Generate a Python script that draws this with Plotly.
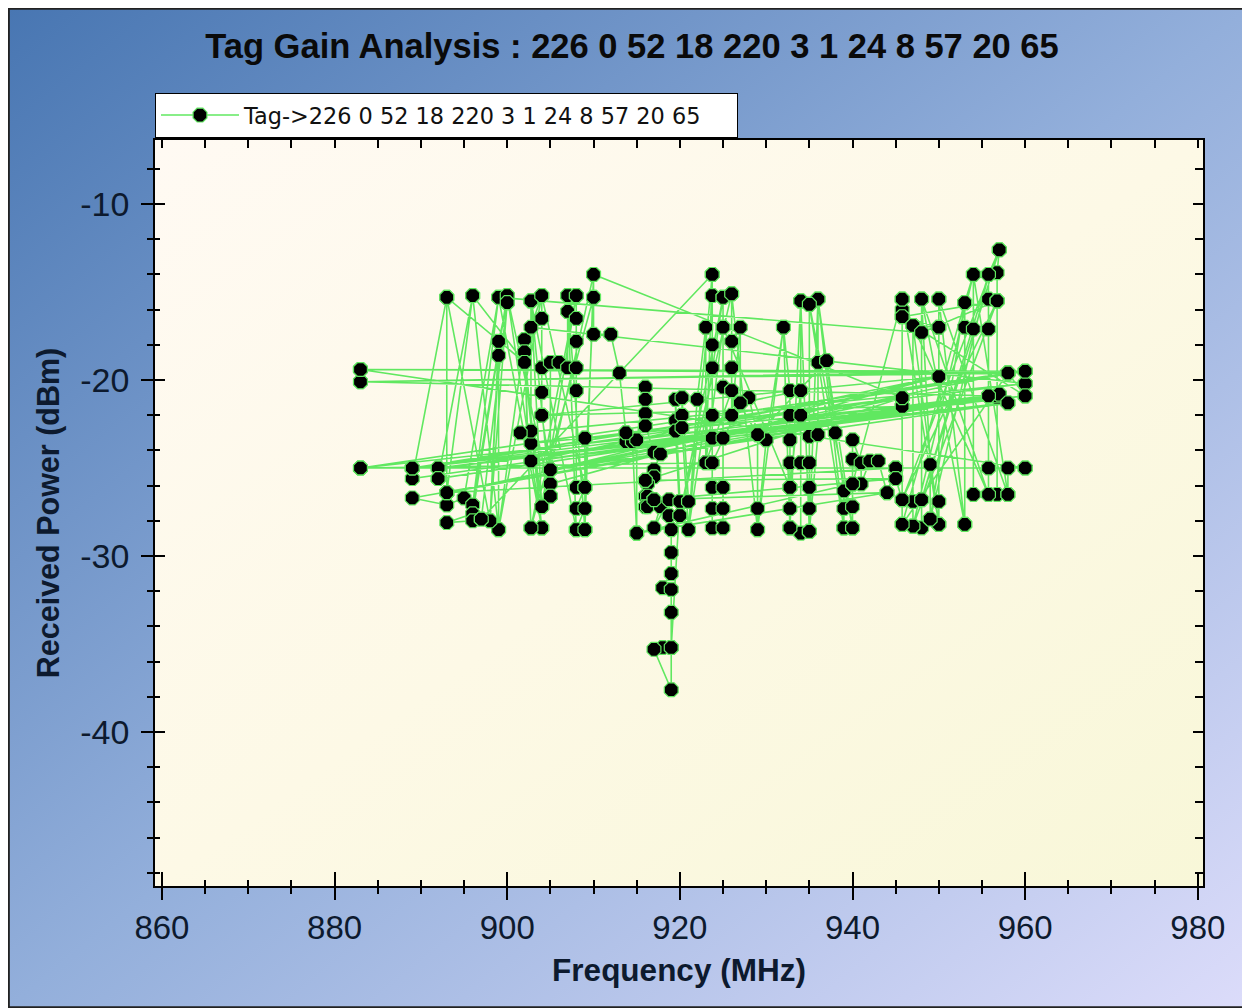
import base64
import plotly.graph_objects as go

freq_mhz = [
    883, 960, 883, 958, 883, 889, 958, 892, 956.75, 889, 893, 893, 896, 892, 955.75,
    889, 893, 895, 899, 896, 900, 896, 893, 896, 897, 900, 899, 898, 899, 899,
    902, 902.75, 902, 904, 902, 904, 902.75, 902.75, 956.75, 902.75, 902.75, 901.5, 960, 902.75, 904,
    904, 904, 904, 904, 905, 950, 905, 905, 905, 906, 907, 907, 907, 908, 908,
    908, 908, 908, 908, 909, 908, 909, 908, 909, 909, 945.75, 910, 910, 910, 912,
    913, 913.75, 913.75, 914.5, 915, 915, 916, 916, 916, 916, 917, 917.75, 917, 917, 916,
    916.25, 916, 916.25, 917, 916, 916.25, 917.75, 917, 918.75, 918.75, 919, 919, 919, 918, 919,
    919, 919, 918, 917, 919, 919, 920, 919.5, 919.5, 919.5, 920, 921, 920.25, 920.25, 920.25,
    921, 922, 923, 923, 923.75, 923.75, 923.75, 923.75, 923.75, 923.75, 923.75, 923.75, 923.75, 923.75, 925,
    925, 925, 925, 925, 925, 925, 926, 926, 926, 926, 926, 927, 927, 928, 929,
    929, 929, 930, 932, 932.75, 932.75, 932.75, 932.75, 932.75, 932.75, 932.75, 934, 934, 934, 934,
    934, 935, 935, 935, 935, 935, 935, 936, 936, 936, 937, 938, 939, 939, 939,
    940, 940, 940, 940, 940, 941, 941, 942, 943, 944, 945, 945, 945.75, 945.75, 945.75,
    945.75, 945.75, 945.75, 947, 947, 947, 948, 948, 948, 948, 949, 949, 950, 950, 950,
    950, 953, 953, 953, 954, 954, 954, 955.75, 955.75, 955.75, 955.75, 955.75, 957, 956.75, 956.75,
    956.75, 958, 958, 960, 883, 960, 892, 945, 893, 957, 905, 958, 883, 960,
    # second sweep
    883, 958, 883, 956.75, 893, 945.75, 889, 957, 892, 955.75, 905, 958, 902.75, 950,
    904, 945.75, 909, 960, 913.75, 945.75, 916, 945, 917, 944, 915, 940,
    945.75, 950, 947, 955.75, 948, 953, 950, 958, 954, 947, 956.75, 945.75, 957, 948,
    955.75, 949, 953, 945.75, 958, 960, 947, 950, 945.75, 956.75, 948,
    899, 904, 900, 905, 902.75, 908, 907, 909, 910, 904, 908, 902.75, 910, 909,
    904, 899, 896, 902, 893, 898, 900, 897,
    923.75, 921, 925, 920, 926, 929, 932, 932.75, 934, 935, 936, 939, 935, 940, 937,
    929, 926, 923, 925, 932.75, 934, 927, 923.75,
    883, 960, 883, 958, 889, 960,
]
power_dbm = [
    -19.4, -19.5, -20.1, -19.6, -25.0, -25.0, -21.3, -25.0, -20.9, -25.6, -15.3, -26.4, -15.2, -25.6, -20.9,
    -26.7, -27.1, -26.7, -15.3, -27.1, -15.2, -27.6, -28.1, -28.0, -27.9, -15.6, -17.8, -28.0, -18.6, -28.5,
    -17.7, -28.4, -18.4, -28.4, -19.0, -27.2, -15.5, -24.6, -21.0, -23.6, -22.9, -23.0, -20.2, -17.0, -15.2,
    -16.5, -19.3, -20.7, -22.0, -25.1, -19.8, -25.9, -26.6, -19.0, -19.0, -19.3, -15.2, -16.1, -15.2, -16.5,
    -17.8, -19.3, -20.6, -26.1, -26.1, -27.3, -27.3, -28.5, -28.5, -23.3, -21.0, -14.0, -15.3, -17.4, -17.4,
    -19.6, -23.0, -23.5, -23.5, -28.7, -23.4, -20.4, -21.1, -21.9, -22.6, -24.1, -24.2, -25.1, -25.5, -25.7,
    -25.9, -26.6, -26.6, -26.8, -27.2, -27.2, -27.2, -28.4, -26.8, -27.7, -28.5, -29.8, -31.0, -31.8, -31.9,
    -33.2, -35.2, -35.2, -35.3, -37.6, -35.2, -26.9, -21.1, -22.3, -22.9, -27.7, -26.9, -21.0, -22.0, -22.7,
    -28.5, -21.1, -17.0, -24.7, -14.0, -15.2, -18.0, -19.3, -22.0, -23.3, -24.7, -26.1, -27.3, -28.4, -28.4,
    -27.3, -26.1, -23.3, -20.4, -17.0, -15.3, -15.1, -17.8, -19.3, -20.6, -22.0, -17.0, -21.3, -21.0, -23.1,
    -27.3, -28.5, -23.4, -17.0, -20.6, -22.0, -23.4, -24.7, -26.1, -27.3, -28.4, -28.7, -24.7, -22.0, -20.6,
    -15.5, -15.7, -23.2, -24.7, -26.1, -27.3, -28.6, -23.1, -19.0, -15.4, -18.9, -23.0, -26.3, -27.3, -28.4,
    -28.4, -27.2, -25.9, -24.5, -23.4, -24.7, -25.9, -24.6, -24.6, -26.4, -25.0, -25.6, -26.8, -28.2, -21.5,
    -16.4, -16.0, -15.4, -16.9, -26.9, -28.3, -28.4, -26.8, -17.3, -15.4, -24.8, -27.9, -28.2, -26.9, -17.0,
    -15.4, -28.2, -17.0, -15.6, -14.0, -17.1, -26.5, -26.5, -25.0, -17.1, -15.4, -14.0, -12.6, -13.9, -15.5,
    -26.5, -26.5, -25.0, -25.0, -25.0, -20.9, -25.0, -25.0, -26.4, -20.8, -25.1, -19.6, -19.4, -19.5,
    # second sweep
    -19.4, -19.6, -20.1, -20.9, -26.4, -21.0, -25.0, -20.8, -25.6, -20.9, -25.1, -21.3, -24.6, -19.8,
    -22.0, -21.5, -23.3, -20.2, -23.0, -21.0, -25.7, -25.6, -26.8, -26.4, -28.7, -25.9,
    -15.4, -28.2, -16.9, -26.5, -15.4, -28.2, -15.4, -26.5, -14.0, -28.3, -15.5, -26.8, -12.6, -26.8,
    -14.0, -27.9, -15.6, -28.2, -19.6, -20.9, -16.9, -17.0, -16.4, -15.5, -17.3,
    -15.3, -28.4, -15.2, -26.6, -15.5, -28.5, -15.2, -28.5, -14.0, -27.2, -15.2, -28.4, -15.3, -26.1,
    -15.2, -28.5, -15.2, -19.0, -15.3, -28.0, -15.6, -27.9,
    -14.0, -28.5, -15.3, -27.7, -15.1, -28.5, -17.0, -28.4, -15.5, -28.6, -15.4, -28.4, -15.7, -28.4, -18.9,
    -23.1, -20.6, -24.7, -17.0, -26.1, -20.6, -21.3, -24.7,
    -25.0, -25.0, -19.4, -19.6, -25.0, -19.5,
]

series_name = "Tag->226 0 52 18 220 3 1 24 8 57 20 65"
chart_title = "Tag Gain Analysis : 226 0 52 18 220 3 1 24 8 57 20 65"
x_title = "Frequency (MHz)"
y_title = "Received Power (dBm)"
x_range = [859.2, 980.6]
y_range = [-48.75, -6.36]
x_tick_vals = [860, 880, 900, 920, 940, 960, 980]
x_tick_text = ["860", "880", "900", "920", "940", "960", "980"]
y_tick_vals = [-40, -30, -20, -10]
y_tick_text = ["-40", "-30", "-20", "-10"]

# ---- layout geometry (page body adds an 8px offset) ----
W, H = 1242, 1000
ML, MR, MT, MB = 147, 47, 132, 122
PW, PH = W - ML - MR, H - MT - MB


def grad_svg(c1, c2, c3):
    svg = (
        '<svg xmlns="http://www.w3.org/2000/svg" width="100" height="100" '
        'preserveAspectRatio="none" viewBox="0 0 100 100">'
        '<defs><linearGradient id="g" x1="0" y1="0" x2="1" y2="1">'
        f'<stop offset="0" stop-color="{c1}"/>'
        f'<stop offset="0.5" stop-color="{c2}"/>'
        f'<stop offset="1" stop-color="{c3}"/>'
        '</linearGradient></defs>'
        '<rect x="0" y="0" width="100" height="100" fill="url(#g)"/></svg>'
    )
    return "data:image/svg+xml;base64," + base64.b64encode(svg.encode()).decode()


LINE_GREEN = "rgb(96,232,96)"
TXT = "#0d1a2e"
FONT = "Liberation Sans, Arial, sans-serif"

fig = go.Figure()
fig.add_trace(go.Scatter(
    x=freq_mhz, y=power_dbm, mode="lines+markers", name=series_name,
    line=dict(color=LINE_GREEN, width=1.6),
    marker=dict(symbol="octagon", size=15, color="black",
                line=dict(color=LINE_GREEN, width=1.2)),
))
# invisible helpers so the overlay tick axes are drawn
fig.add_trace(go.Scatter(x=[None], y=[None], xaxis="x2", yaxis="y2", showlegend=False, hoverinfo="skip"))
fig.add_trace(go.Scatter(x=[None], y=[None], xaxis="x3", yaxis="y3", showlegend=False, hoverinfo="skip"))

common_x = dict(range=x_range, tickmode="array", tickvals=x_tick_vals, ticktext=x_tick_text,
                showgrid=False, zeroline=False, tickcolor="black", tickwidth=1.5, automargin=False)
common_y = dict(range=y_range, tickmode="array", tickvals=y_tick_vals, ticktext=y_tick_text,
                showgrid=False, zeroline=False, tickcolor="black", tickwidth=1.5, automargin=False)

fig.update_layout(
    width=W, height=H,
    margin=dict(l=ML, r=MR, t=MT, b=MB, pad=0, autoexpand=False),
    paper_bgcolor="#7f9fcf",
    plot_bgcolor="rgba(0,0,0,0)",
    font=dict(family=FONT, color=TXT),
    title=dict(text=chart_title, x=624 / W, xanchor="center", y=1 - 38 / H, yanchor="middle",
               xref="container", yref="container",
               font=dict(family=FONT, size=34.5, color="#0a0a0a", weight="bold")),
    showlegend=True,
    legend=dict(x=0, xanchor="left", y=1 + (MT - 85) / PH, yanchor="top",
                orientation="h", entrywidth=488, entrywidthmode="pixels",
                bgcolor="white", bordercolor="black", borderwidth=1,
                font=dict(family="DejaVu Sans, sans-serif", size=22.4, color="#111111"),
                itemwidth=78, tracegroupgap=0),
    xaxis=dict(**common_x, ticks="outside", ticklen=12,
               minor=dict(dtick=5, tick0=860, ticks="outside", ticklen=6, tickcolor="black", tickwidth=1.5),
               showline=True, linecolor="black", linewidth=1.5, mirror=True,
               tickfont=dict(size=33, color=TXT), ticklabelstandoff=0,
               title=dict(text=x_title, font=dict(size=31.5, color=TXT, weight="bold"), standoff=14)),
    xaxis2=dict(**common_x, overlaying="x", anchor="y", side="bottom", ticks="inside", ticklen=14,
                minor=dict(dtick=5, tick0=860, ticks="inside", ticklen=6, tickcolor="black", tickwidth=1.5),
                showticklabels=False, showline=False),
    xaxis3=dict(**common_x, overlaying="x", anchor="y", side="top", ticks="inside", ticklen=8,
                minor=dict(dtick=5, tick0=860, ticks="inside", ticklen=8, tickcolor="black", tickwidth=1.5),
                showticklabels=False, showline=False),
    yaxis=dict(**common_y, ticks="outside", ticklen=12,
               minor=dict(dtick=2, tick0=-10, ticks="outside", ticklen=6, tickcolor="black", tickwidth=1.5),
               showline=True, linecolor="black", linewidth=1.5, mirror=True,
               tickfont=dict(size=34, color=TXT), ticklabelstandoff=5,
               title=dict(text=y_title, font=dict(size=30.5, color=TXT, weight="bold"), standoff=12)),
    yaxis2=dict(**common_y, overlaying="y", anchor="x", side="left", ticks="inside", ticklen=10,
                minor=dict(dtick=2, tick0=-10, ticks="inside", ticklen=5, tickcolor="black", tickwidth=1.5),
                showticklabels=False, showline=False),
    yaxis3=dict(**common_y, overlaying="y", anchor="x", side="right", ticks="inside", ticklen=10,
                minor=dict(dtick=2, tick0=-10, ticks="inside", ticklen=8, tickcolor="black", tickwidth=1.5),
                showticklabels=False, showline=False),
    images=[
        dict(source=grad_svg("#4876b2", "#93afdb", "#dcdcfa"), xref="paper", yref="paper",
             x=-ML / PW, y=1 + MT / PH, sizex=W / PW, sizey=H / PH,
             xanchor="left", yanchor="top", sizing="stretch", layer="below"),
        dict(source=grad_svg("#fffaf3", "#fdf9e6", "#f8f7d8"), xref="paper", yref="paper",
             x=0, y=1, sizex=1, sizey=1,
             xanchor="left", yanchor="top", sizing="stretch", layer="below"),
    ],
    shapes=[
        dict(type="rect", xref="paper", yref="paper",
             x0=-ML / PW + 0.0008, x1=1 + MR / PW - 0.0008,
             y0=-MB / PH + 0.001, y1=1 + MT / PH - 0.001,
             line=dict(color="#222222", width=2), fillcolor="rgba(0,0,0,0)", layer="above"),
    ],
)

fig.write_html("out.html")
